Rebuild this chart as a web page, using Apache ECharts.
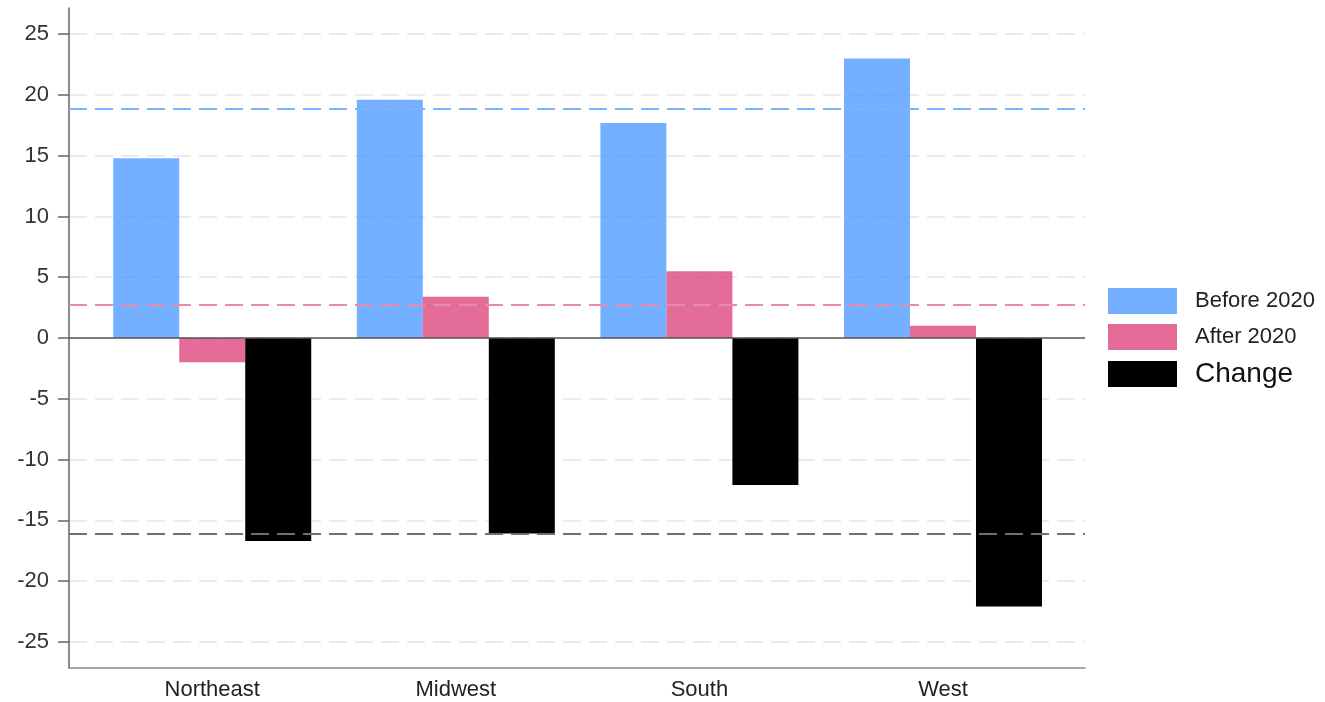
<!DOCTYPE html>
<html>
<head>
<meta charset="utf-8">
<script src="https://cdn.jsdelivr.net/npm/echarts@6/dist/echarts.min.js"></script>
<style>html,body{margin:0;padding:0;background:#fff;}#c{width:1325px;height:702px;}</style>
</head>
<body>
<div id="c"></div>
<script>
var categories = ['Northeast', 'Midwest', 'South', 'West'];
var before2020 = [14.8, 19.6, 17.7, 23.0];
var after2020 = [-2.0, 3.4, 5.5, 1.0];
var change = [-16.7, -16.1, -12.1, -22.1];
var refBefore = 18.9;
var refAfter = 2.7;
var refChange = -16.1;
var yTicks = [-25, -20, -15, -10, -5, 0, 5, 10, 15, 20, 25];

function pts(arr) { return arr.map(function (v, i) { return [i, v]; }); }
var FONT = 'Liberation Sans, Arial, sans-serif';

var chart = echarts.init(document.getElementById('c'), null, {renderer: 'canvas'});
chart.setOption({
  animation: false,
  backgroundColor: '#ffffff',
  grid: {left: 69, right: 240, top: 8, bottom: 34, containLabel: false},
  xAxis: {
    type: 'value', min: -0.588, max: 3.583,
    axisLine: {show: true, onZero: false, lineStyle: {color: '#8a8a8a', width: 1.5}},
    axisTick: {show: false},
    splitLine: {show: false},
    axisLabel: {
      customValues: [0, 1, 2, 3],
      formatter: function (v) { return categories[Math.round(v)] || ''; },
      color: '#222', fontFamily: FONT, fontSize: 22, margin: 11
    }
  },
  yAxis: {
    type: 'value', min: -27.16, max: 27.16,
    axisLine: {show: true, onZero: false, lineStyle: {color: '#666', width: 1.5}},
    axisTick: {show: true, customValues: yTicks, length: 11, lineStyle: {color: '#666', width: 1.5}},
    axisLabel: {customValues: yTicks, color: '#333', fontFamily: FONT, fontSize: 22, margin: 20},
    splitLine: {show: true, lineStyle: {color: '#ebebeb', width: 2, type: [18, 8]}}
  },
  legend: {
    orient: 'vertical', left: 1108, top: 288, padding: 0,
    itemWidth: 69, itemHeight: 26, itemGap: 10,
    icon: 'rect',
    textStyle: {fontFamily: FONT, fontSize: 22, color: '#222', padding: [0, 0, 0, 13]},
    data: [
      {name: 'Before 2020'},
      {name: 'After 2020'},
      {name: 'Change', textStyle: {fontSize: 28, color: '#111'}}
    ]
  },
  series: [
    {
      type: 'line', name: 'refs', data: [], z: 1, silent: true,
      markLine: {
        silent: true, symbol: 'none', label: {show: false}, animation: false,
        data: [
          {yAxis: refBefore, lineStyle: {color: '#7ab4ff', width: 2, type: [18, 8]}},
          {yAxis: refAfter, lineStyle: {color: '#e88aad', width: 2, type: [18, 8]}},
          {yAxis: refChange, lineStyle: {color: '#707070', width: 2, type: [18, 8]}}
        ]
      }
    },
    {
      type: 'bar', name: 'Before 2020', data: pts(before2020), barWidth: 66, barGap: '0%', z: 2,
      itemStyle: {color: 'rgba(70,150,255,0.75)'}
    },
    {
      type: 'bar', name: 'After 2020', data: pts(after2020), barWidth: 66, barGap: '0%', z: 2,
      itemStyle: {color: 'rgba(220,72,126,0.8)'}
    },
    {
      type: 'bar', name: 'Change', data: pts(change), barWidth: 66, barGap: '0%', z: 2,
      itemStyle: {color: '#000000'}
    },
    {
      type: 'line', name: 'zero', data: [], z: 3, silent: true,
      markLine: {
        silent: true, symbol: 'none', label: {show: false}, animation: false,
        data: [{yAxis: 0, lineStyle: {color: '#555', width: 1.5, type: 'solid'}}]
      }
    }
  ]
});
</script>
</body>
</html>
